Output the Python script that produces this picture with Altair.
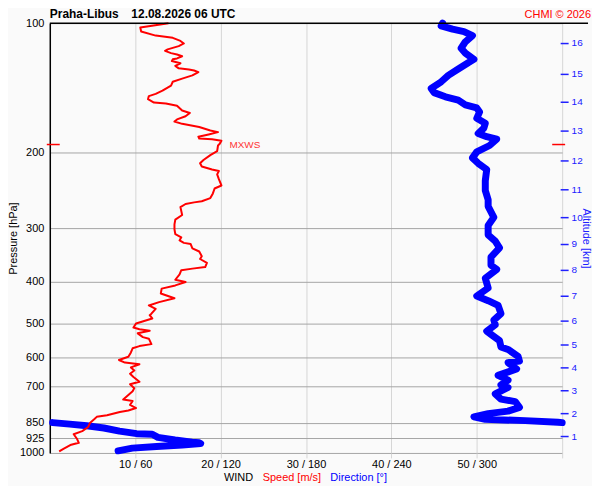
import altair as alt
import pandas as pd

FONT = "Liberation Sans"
RED = "#ff0000"
BLUE = "#0000ff"
AXIS_BLUE = "#2020ff"

# ---- data ----
speed_pressure = [100.0, 102.4, 104.6, 106.9, 108.2, 110.0, 111.5, 113.1, 115.1, 116.0, 117.4, 118.3, 119.4, 120.8,
                  121.4, 122.5, 124.0, 125.7, 127.4, 128.2, 128.9, 130.0, 132.3, 134.6, 136.9, 139.7, 143.6, 146.1,
                  147.8, 150.3, 153.0, 153.8, 155.7, 159.7, 161.8, 164.7, 167.5, 169.4, 171.5, 174.5, 177.8, 179.3,
                  181.5, 183.7, 185.6, 186.2, 187.7, 190.9, 192.6, 198.6, 202.8, 208.2, 211.9, 215.5, 219.0, 220.9,
                  224.8, 230.7, 238.6, 242.5, 249.0, 255.3, 259.7, 261.2, 263.5, 268.0, 279.5, 286.5, 294.0, 301.6,
                  309.6, 314.9, 320.2, 324.5, 326.6, 334.2, 339.9, 348.5, 353.8, 361.3, 369.5, 372.5, 375.6, 384.1,
                  395.4, 400.2, 407.6, 414.7, 425.6, 436.5, 445.8, 453.8, 462.1, 474.3, 478.2, 486.5, 500.0, 510.8,
                  515.4, 519.9, 526.9, 537.6, 542.2, 558.2, 564.1, 570.8, 583.5, 597.4, 607.7, 616.3, 621.8, 632.4,
                  642.9, 654.2, 665.6, 683.0, 692.4, 706.7, 718.9, 751.0, 757.1, 773.0, 786.1, 796.8, 803.0, 817.0,
                  824.2, 835.2, 852.0, 870.0, 889.8, 904.5, 928.2, 947.2, 958.4, 978.0, 991.3]
speed_ms = [13.9, 10.6, 10.7, 12.4, 14.4, 15.3, 15.7, 15.1, 13.8, 13.5, 14.2, 14.9, 15.5, 14.9,
            14.4, 14.3, 15.3, 14.7, 15.1, 16.3, 16.9, 17.4, 16.7, 15.5, 14.4, 14.2, 13.2, 12.4,
            11.6, 11.5, 12.2, 13.6, 14.9, 15.5, 16.4, 15.9, 14.9, 14.6, 15.5, 17.5, 18.8, 19.7,
            18.6, 17.4, 17.5, 19.0, 20.1, 19.9, 19.7, 19.6, 18.8, 18.0, 17.6, 17.8, 19.0, 19.8,
            19.6, 19.8, 20.1, 19.3, 19.1, 18.8, 17.8, 16.9, 15.9, 15.3, 15.5, 14.7, 14.6, 14.6,
            14.7, 15.4, 15.2, 15.7, 16.5, 16.7, 17.5, 17.8, 17.6, 18.4, 18.2, 16.7, 15.4, 15.2,
            14.7, 15.9, 14.7, 13.1, 13.0, 14.6, 12.8, 11.6, 12.4, 11.9, 11.7, 12.0, 10.1, 9.8,
            10.5, 11.7, 10.3, 10.9, 11.6, 11.9, 10.5, 9.7, 9.5, 9.2, 8.1, 8.8, 10.5, 9.5,
            9.9, 9.4, 9.8, 10.5, 9.4, 9.9, 9.7, 8.6, 9.7, 9.4, 10.1, 9.2, 8.2, 6.7,
            5.5, 5.2, 4.7, 4.5, 3.8, 2.8, 3.2, 3.4, 2.4, 1.6, 1.1]

dir_upper_pressure = [100.0, 101.5, 103.3, 104.6, 106.9, 110.5, 114.4, 117.4, 121.4, 123.6, 127.8, 132.3, 136.9,
                      141.9, 145.1, 148.4, 151.1, 154.9, 157.5, 160.9, 166.5, 170.9, 175.5, 180.6, 183.7, 186.2,
                      192.6, 199.3, 205.8, 211.9, 219.0, 232.7, 245.1, 257.7, 266.8, 283.0, 295.5, 310.8, 321.4,
                      333.2, 350.3, 365.9, 374.1, 392.2, 413.3, 431.4, 442.3, 453.8, 474.1, 490.8, 503.1, 521.0,
                      529.9, 547.9, 566.6, 574.5, 595.9, 611.5, 616.3, 637.8, 659.9, 677.3, 694.9, 704.1, 728.8,
                      749.4, 759.5, 783.3, 799.3, 810.1, 824.2, 835.2, 841.1, 848.4, 850.0]
dir_upper_deg = [276, 275, 283, 291, 297, 292, 289, 292, 298, 294, 287, 280, 275,
                 268, 270, 278, 287, 292, 300, 302, 300, 306, 305, 301, 307, 314,
                 309, 300, 297, 301, 307, 306, 306, 308, 308, 312, 308, 308, 313,
                 316, 310, 310, 314, 306, 308, 300, 308, 315, 317, 312, 313, 307,
                 310, 316, 317, 322, 329, 330, 322, 328, 315, 322, 317, 322, 313,
                 317, 327, 330, 322, 308, 298, 306, 334, 357, 360]
dir_lower_pressure = [850.0, 857.0, 864.6, 875.0, 889.8, 901.9, 904.5, 919.8, 932.8, 943.8, 947.2, 951.0,
                      958.4, 966.3, 974.6, 988.8]
dir_lower_deg = [2, 14, 26, 38, 49, 61, 72, 76, 88, 100, 105, 106, 93, 75, 58, 48]

pressure_ticks = [100, 200, 300, 400, 500, 600, 700, 850, 925, 1000]
speed_ticks = [10, 20, 30, 40, 50, 60]
altitude_km = list(range(1, 17))
altitude_pressure = [915.7, 809.4, 715.7, 632.0, 559.6, 490.9, 430.1, 375.2, 326.2, 282.9, 243.4, 208.4,
                     177.4, 152.4, 131.1, 111.1]

mxws_pressure = [191.6]
mxws_speed = [20.1]

station_text = "Praha-Libus"
time_text = "12.08.2026 06 UTC"
credit_text = "CHMI \u00a9 2026"
wind_text = "WIND"
speed_text = "Speed [m/s]"
dir_text = "Direction [\u00b0]"

# ---- tables ----
W, H = 515, 432

speed_df = pd.DataFrame({"p": speed_pressure, "speed": speed_ms, "i": range(len(speed_ms))})
dir_df = pd.concat([
    pd.DataFrame({"p": dir_upper_pressure, "dir": dir_upper_deg, "seg": "upper",
                  "i": range(len(dir_upper_deg))}),
    pd.DataFrame({"p": dir_lower_pressure, "dir": dir_lower_deg, "seg": "lower",
                  "i": range(len(dir_lower_deg))}),
], ignore_index=True)
alt_df = pd.DataFrame({"p": altitude_pressure, "km": altitude_km})
mx_df = pd.DataFrame({"p": mxws_pressure, "speed": mxws_speed})
one = pd.DataFrame({"a": [0]})

yscale = alt.Scale(type="log", domain=[100, 1000], reverse=True, nice=False)
xscale = alt.Scale(domain=[0, 60], nice=False, zero=False)

# invisible layer that carries the bottom and left axes
axes_layer = alt.Chart(speed_df).mark_point(opacity=0).encode(
    x=alt.X("speed:Q", scale=xscale, axis=alt.Axis(
        values=speed_ticks,
        labelExpr="datum.value == 60 ? '' : datum.value + ' / ' + (datum.value * 6)",
        grid=True, gridColor="#d6d6d6", gridWidth=1,
        ticks=True, tickColor="#d6d6d6", tickSize=5,
        domain=False, labelFontSize=11, labelColor="#000000", labelPadding=1,
        labelFont=FONT, labelFlush=False, labelOverlap=False, title=None)),
    y=alt.Y("p:Q", scale=yscale, axis=alt.Axis(
        values=pressure_ticks, format="d", grid=True, gridColor="#a4a4a4", gridWidth=1,
        ticks=False, domain=True, domainColor="#000000", domainWidth=1.5,
        labelFontSize=11, labelColor="#000000", labelPadding=6, labelFont=FONT,
        labelOverlap=False,
        title="Pressure [hPa]", titleFont=FONT, titleFontSize=11, titleFontWeight="normal",
        titleColor="#000000", titlePadding=1)),
)

# direction in degrees drawn on the shared 0-60 / 0-360 scale
blue = alt.Chart(dir_df).mark_line(
    color=BLUE, strokeWidth=7, strokeCap="round", strokeJoin="round"
).transform_calculate(xs="datum.dir / 6").encode(
    x=alt.X("xs:Q", scale=xscale, axis=None),
    y=alt.Y("p:Q", scale=yscale, axis=None),
    detail="seg:N",
    order="i:Q",
)

red = alt.Chart(speed_df).mark_line(
    color=RED, strokeWidth=2, strokeJoin="round"
).encode(
    x=alt.X("speed:Q", scale=xscale, axis=None),
    y=alt.Y("p:Q", scale=yscale, axis=None),
    order="i:Q",
)

km_expr = "indexof([" + ",".join(str(v) for v in altitude_pressure) + "], datum.value) + 1"
right_axis = alt.Chart(alt_df).mark_point(opacity=0).encode(
    x=alt.value(0),
    y=alt.Y("p:Q", scale=yscale, axis=alt.Axis(
        orient="right", values=altitude_pressure, labelExpr=km_expr, offset=-2,
        tickSize=8, tickColor=AXIS_BLUE, tickWidth=1.5, domain=False, grid=False,
        labelColor=AXIS_BLUE, labelFontSize=10, labelPadding=3, labelFont=FONT,
        labelOverlap=False,
        title="Altitude [km]", titleColor=AXIS_BLUE, titleFont=FONT, titleFontSize=11,
        titleFontWeight="normal", titlePadding=-2)),
)

top_line = alt.Chart(one).mark_rule(color="#000000", strokeWidth=1.5).encode(
    x=alt.value(0), x2=alt.value(W + 26), y=alt.value(0))

mx_left = alt.Chart(mx_df).mark_rule(color=RED, strokeWidth=1.5).encode(
    x=alt.value(-3), x2=alt.value(10), y=alt.Y("p:Q", scale=yscale, axis=None))
mx_right = alt.Chart(mx_df).mark_rule(color=RED, strokeWidth=1.5).encode(
    x=alt.value(W - 10), x2=alt.value(W + 3), y=alt.Y("p:Q", scale=yscale, axis=None))
mx_text = alt.Chart(mx_df).mark_text(
    align="left", baseline="middle", dx=8, color="#ff3838", fontSize=10, font=FONT
).encode(
    x=alt.X("speed:Q", scale=xscale, axis=None),
    y=alt.Y("p:Q", scale=yscale, axis=None),
    text=alt.value("MXWS"),
)


def label(txt, x, y, color="#000000", size=11, weight="normal", align="left"):
    return alt.Chart(one).mark_text(
        align=align, baseline="alphabetic", color=color, fontSize=size,
        fontWeight=weight, font=FONT
    ).encode(x=alt.value(x), y=alt.value(y), text=alt.value(txt))


texts = [
    label(station_text, 0, -5, size=12, weight="bold"),
    label(time_text, 82, -5, size=12, weight="bold"),
    label(credit_text, W + 29, -5, color=RED, size=11, align="right"),
    label(wind_text, 175, H + 28),
    label(speed_text, 214, H + 28, color=RED),
    label(dir_text, 282, H + 28, color=BLUE),
]

chart = alt.layer(
    axes_layer, blue, red, right_axis, top_line, mx_left, mx_right, mx_text, *texts
).resolve_axis(x="independent", y="independent").properties(
    width=W, height=H,
    autosize=alt.AutoSizeParams(type="none"),
    padding={"left": 42, "top": 14, "right": 30, "bottom": 32},
    background="#fafafa",
).configure_view(strokeWidth=0)

chart.save("out.html", embed_options={"renderer": "svg", "actions": False})
